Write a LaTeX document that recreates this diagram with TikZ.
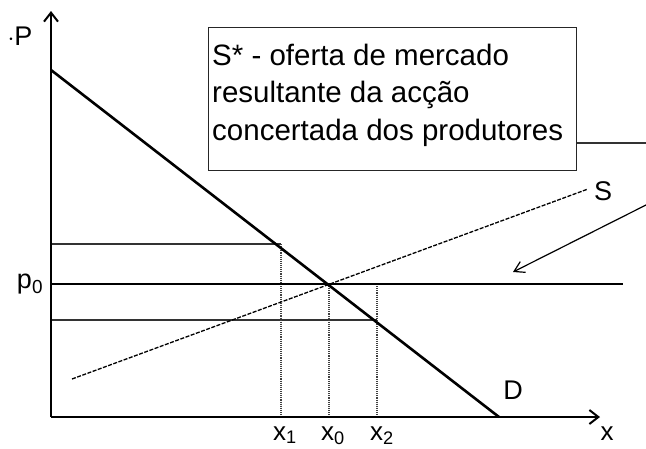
\documentclass[tikz,border=0pt]{standalone}
\usepackage{fontspec}
\setmainfont{Liberation Sans}
\usetikzlibrary{arrows.meta}
\begin{document}
\begin{tikzpicture}[x=1pt,y=-1pt,
  thickln/.style={line width=2.6pt,black},
  thinln/.style={line width=1.2pt,black!80},
  guide/.style={line width=1.1pt,black!75,densely dotted},
  supply/.style={line width=1.3pt,black,dash pattern=on 4pt off 1.5pt},
  lbl/.style={font=\fontsize{27}{30}\selectfont,inner sep=0pt},
  xlbl/.style={font=\fontsize{26}{30}\selectfont,inner sep=0pt,anchor=base},
  boxline/.style={anchor=base west,inner sep=0pt,font=\fontsize{29.5}{36}\selectfont},
  axisarrow/.style={-{Straight Barb[length=9pt,width=14pt,line width=2pt]}}]
\useasboundingbox (0,0) rectangle (646,448);
% coordinates
\coordinate (O) at (51,417);
\coordinate (Ytop) at (51,11);
\coordinate (Xend) at (600,417);
\coordinate (Dtop) at (51,70);
\coordinate (Dbot) at (499,417);
\coordinate (Sa) at (72,379);
\coordinate (Sb) at (588,189);
\coordinate (E) at (329,284);
\coordinate (P1) at (281,244);
\coordinate (P2) at (377,320);
\coordinate (pL) at (51,284);
\coordinate (pR) at (623,284);
\coordinate (hiL) at (51,244);
\coordinate (loL) at (51,320);
\coordinate (x1b) at (281,417);
\coordinate (x0b) at (329,417);
\coordinate (x2b) at (377,417);
\coordinate (x2t) at (377,284);
\coordinate (arS) at (646,205);
\coordinate (arE) at (513,272);
% box
\node[draw,line width=1.2pt,black!85,minimum width=368pt,minimum height=143pt,anchor=north west,inner sep=0pt] (box) at (208,27) {};
\node[boxline] (t1) at (212,65) {S* - oferta de mercado};
\node[boxline] (t2) at (212,102) {resultante da acção};
\node[boxline] (t3) at (212,140) {concertada dos produtores};
\coordinate (sstarR) at (646,143);
\draw[thinln] (box.east |- sstarR) -- (sstarR);
% guides
\draw[thinln] (hiL) -- (P1);
\draw[thinln] (loL) -- (P2);
\draw[guide] (P1) -- (x1b);
\draw[guide] (E) -- (x0b);
\draw[guide] (x2t) -- (x2b);
% p0 line
\draw[thickln] (pL) -- (pR);
% supply
\draw[supply] (Sa) -- (Sb);
% demand
\draw[thickln] (Dtop) -- (Dbot);
% arrow
\draw[line width=1.2pt,-{Straight Barb[length=10pt,width=12pt,line width=1.2pt]}] (arS) -- (arE);
% axes
\draw[thickln,axisarrow] (O) -- (Ytop);
\draw[thickln,axisarrow] (O) -- (Xend);
% labels
\node[lbl] (lP) at (20,36) {$\cdot$P};
\node[lbl] (lp0) at (30,284) {p\textsubscript{0}};
\node[xlbl] (lx1) at (285,440) {x\textsubscript{1}};
\node[xlbl] (lx0) at (333,440) {x\textsubscript{0}};
\node[xlbl] (lx2) at (382,440) {x\textsubscript{2}};
\node[xlbl] (lx) at (607,440) {x};
\node[lbl] (lD) at (513,390) {D};
\node[lbl] (lS) at (603,191) {S};
\end{tikzpicture}
\end{document}
